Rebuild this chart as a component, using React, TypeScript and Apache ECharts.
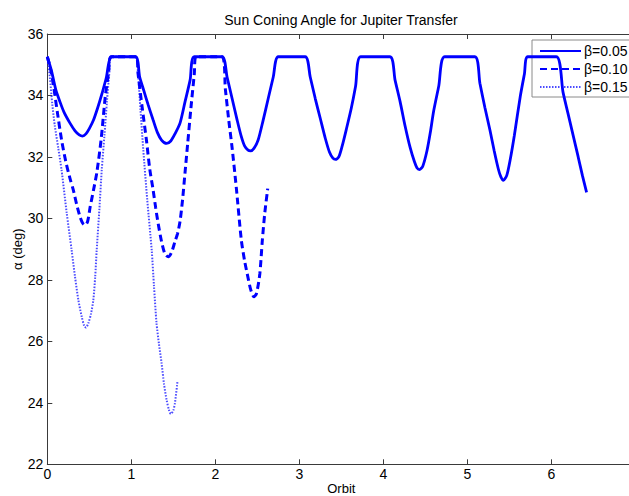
import React, { useEffect, useRef } from "react";
import * as echarts from "echarts";

const seriesNames = ["β=0.05", "β=0.10", "β=0.15"];
const xTicks = [0, 1, 2, 3, 4, 5, 6, 7];
const yTicks = [22, 24, 26, 28, 30, 32, 34, 36];

const beta005: [number, number][] = [
  [0, 35.26], [0.05, 34.8], [0.1, 34.2], [0.15, 33.8], [0.2, 33.45], [0.27, 33.1], [0.33, 32.85], [0.38, 32.72], [0.42, 32.68], [0.46, 32.75], [0.5, 32.92], [0.55, 33.2], [0.6, 33.6], [0.65, 34.05], [0.7, 34.55], [0.77, 35.26],
  [1.05, 35.26], [1.1, 34.6], [1.15, 34.15], [1.2, 33.7], [1.26, 33.2], [1.31, 32.8], [1.36, 32.55], [1.42, 32.44], [1.47, 32.52], [1.52, 32.75], [1.58, 33.1], [1.64, 33.8], [1.7, 34.5], [1.75, 35.26],
  [2.08, 35.26], [2.14, 34.6], [2.2, 33.9], [2.26, 33.2], [2.31, 32.66], [2.35, 32.35], [2.39, 32.22], [2.42, 32.2], [2.46, 32.28], [2.51, 32.55], [2.57, 33.2], [2.63, 33.9], [2.69, 34.6], [2.75, 35.26],
  [3.07, 35.26], [3.13, 34.6], [3.19, 33.9], [3.25, 33.25], [3.31, 32.6], [3.36, 32.15], [3.4, 31.96], [3.43, 31.92], [3.47, 32.0], [3.51, 32.35], [3.56, 32.9], [3.62, 33.6], [3.67, 34.3], [3.73, 35.26],
  [4.08, 35.26], [4.14, 34.5], [4.2, 33.8], [4.26, 33.0], [4.32, 32.3], [4.37, 31.85], [4.4, 31.65], [4.43, 31.59], [4.47, 31.7], [4.52, 32.2], [4.56, 32.8], [4.6, 33.5], [4.66, 34.3], [4.73, 35.26],
  [5.09, 35.26], [5.15, 34.4], [5.21, 33.6], [5.27, 32.87], [5.32, 32.2], [5.37, 31.6], [5.4, 31.35], [5.43, 31.24], [5.47, 31.4], [5.51, 31.9], [5.56, 32.7], [5.63, 33.96], [5.68, 34.7], [5.72, 35.26],
  [6.06, 35.26], [6.14, 34.1], [6.2, 33.4], [6.26, 32.7], [6.32, 32.0], [6.37, 31.4], [6.42, 30.85],
];

const beta010: [number, number][] = [
  [0, 35.26], [0.04, 34.85], [0.08, 34.2], [0.12, 33.45], [0.17, 32.55], [0.22, 31.85], [0.27, 31.3], [0.31, 30.92], [0.35, 30.45], [0.39, 30.05], [0.42, 29.85], [0.45, 29.78], [0.48, 29.9], [0.51, 30.37], [0.55, 30.92], [0.59, 31.5], [0.64, 32.55], [0.69, 33.96], [0.73, 34.75], [0.76, 35.26],
  [1.06, 35.26], [1.08, 34.72], [1.13, 33.6], [1.18, 32.55], [1.22, 31.6], [1.26, 30.92], [1.29, 30.35], [1.32, 29.83], [1.36, 29.25], [1.4, 28.85], [1.44, 28.75], [1.48, 28.9], [1.52, 29.25], [1.55, 29.5], [1.58, 29.9], [1.61, 30.6], [1.64, 31.5], [1.67, 32.4], [1.71, 33.6], [1.75, 34.7], [1.77, 35.26],
  [2.08, 35.26], [2.12, 34.2], [2.16, 33.2], [2.2, 32.3], [2.25, 31.0], [2.31, 29.29], [2.35, 28.6], [2.38, 28.2], [2.42, 27.7], [2.46, 27.45], [2.49, 27.55], [2.53, 28.2], [2.56, 29.29], [2.59, 30.2], [2.624, 30.97],
];

const beta015: [number, number][] = [
  [0, 35.26], [0.03, 34.6], [0.06, 33.7], [0.09, 33.0], [0.13, 32.3], [0.17, 31.57], [0.23, 30.2], [0.29, 28.96], [0.33, 28.1], [0.37, 27.34], [0.41, 26.8], [0.44, 26.5], [0.46, 26.45], [0.49, 26.6], [0.52, 26.9], [0.548, 27.34], [0.57, 28.1], [0.588, 28.96], [0.62, 30.3], [0.648, 31.57], [0.68, 32.7], [0.71, 33.8], [0.74, 34.8], [0.755, 35.26],
  [1.05, 35.26], [1.08, 34.7], [1.11, 33.5], [1.143, 32.22], [1.19, 30.6], [1.243, 28.96], [1.27, 27.8], [1.3, 26.6], [1.33, 25.9], [1.36, 25.3], [1.39, 24.6], [1.42, 24.1], [1.45, 23.75], [1.47, 23.64], [1.5, 23.75], [1.52, 24.0], [1.55, 24.7],
];

const FONT = "Arial, 'Liberation Sans', Helvetica, sans-serif";
const AXIS_COLOR = "#3a3a3a";

export default function App() {
  const ref = useRef<HTMLDivElement>(null);
  useEffect(() => {
    if (!ref.current) return;
    const chart = echarts.init(ref.current, undefined, { renderer: "svg" });
    const axisCommon = {
      type: "value" as const,
      min: xTicks[0],
      max: xTicks[xTicks.length - 1],
      interval: 1,
      splitLine: { show: false },
      axisLine: { show: true, lineStyle: { color: AXIS_COLOR, width: 1 } },
      axisTick: { show: true, inside: true, length: 5, lineStyle: { color: AXIS_COLOR } },
    };
    chart.setOption({
      animation: false,
      backgroundColor: "#ffffff",
      title: {
        text: "Sun Coning Angle for Jupiter Transfer",
        left: "center",
        top: 13,
        padding: 0,
        textStyle: { fontFamily: FONT, fontSize: 14, fontWeight: "normal", color: "#000" },
      },
      grid: {
        left: 47.3,
        right: 46.7,
        top: 34,
        bottom: 31.7,
        containLabel: false,
        outerBoundsMode: "none",
      },
      legend: {
        data: seriesNames,
        orient: "vertical",
        left: 532,
        top: 40,
        padding: [4, 4, 3, 7],
        itemWidth: 41,
        itemHeight: 14,
        itemGap: 4,
        backgroundColor: "#ffffff",
        borderColor: "#8a8a8a",
        borderWidth: 1,
        borderRadius: 0,
        itemStyle: { opacity: 0, borderWidth: 0 },
        textStyle: { fontFamily: FONT, fontSize: 14, color: "#000", padding: [0, 0, 0, -2] },
      },
      xAxis: [
        {
          ...axisCommon,
          position: "bottom",
          name: "Orbit",
          nameLocation: "middle",
          nameGap: 18,
          nameMoveOverlap: false,
          nameTextStyle: { fontFamily: FONT, fontSize: 13, lineHeight: 12, color: "#000" },
          axisLabel: {
            show: true,
            margin: 3,
            showMaxLabel: false,
            fontFamily: FONT,
            fontSize: 14,
            color: "#000",
          },
        },
        {
          ...axisCommon,
          position: "top",
          axisLabel: { show: false },
        },
      ],
      yAxis: {
        type: "value",
        min: yTicks[0],
        max: yTicks[yTicks.length - 1],
        interval: 2,
        name: "α (deg)",
        nameLocation: "middle",
        nameGap: 23,
        nameRotate: 90,
        nameMoveOverlap: false,
        nameTextStyle: { fontFamily: FONT, fontSize: 13, color: "#000" },
        splitLine: { show: false },
        axisLine: { show: true, lineStyle: { color: AXIS_COLOR, width: 1 } },
        axisTick: { show: true, inside: true, length: 5, lineStyle: { color: AXIS_COLOR } },
        axisLabel: { margin: 4, fontFamily: FONT, fontSize: 14, color: "#000" },
      },
      series: [
        {
          name: seriesNames[0],
          type: "line",
          data: beta005,
          symbol: "none",
          smooth: 0.25,
          lineStyle: { color: "#0000ff", width: 2.8, type: "solid" },
          itemStyle: { color: "#0000ff", opacity: 0 },
          z: 4,
        },
        {
          name: seriesNames[1],
          type: "line",
          data: beta010,
          symbol: "none",
          smooth: 0.25,
          lineStyle: { color: "#0000ff", width: 3, type: [7, 4] },
          itemStyle: { color: "#0000ff", opacity: 0 },
          z: 3,
        },
        {
          name: seriesNames[2],
          type: "line",
          data: beta015,
          symbol: "none",
          smooth: 0.25,
          lineStyle: { color: "#2b2bff", width: 2, type: [1.5, 1.5], opacity: 0.85 },
          itemStyle: { color: "#2b2bff", opacity: 0 },
          z: 2,
        },
      ],
    });
    return () => chart.dispose();
  }, []);
  return (
    <div
      style={{
        position: "fixed",
        left: 0,
        top: 0,
        width: 629,
        height: 496,
        overflow: "hidden",
        background: "#fff",
      }}
    >
      <div ref={ref} style={{ width: 682, height: 496 }} />
    </div>
  );
}
